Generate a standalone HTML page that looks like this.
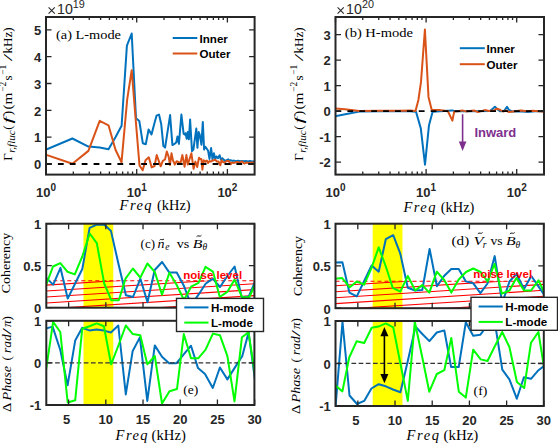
<!DOCTYPE html>
<html><head><meta charset="utf-8"><style>
html,body{margin:0;padding:0;background:#fff;}
svg{display:block;}
</style></head><body>
<svg width="558" height="444" viewBox="0 0 558 444">
<rect width="558" height="444" fill="#fff"/>
<clipPath id="cpa"><rect x="46.0" y="17.0" width="208.60" height="157.60"/></clipPath>
<clipPath id="cpb"><rect x="335.5" y="17.0" width="208.50" height="157.60"/></clipPath>
<clipPath id="cpc"><rect x="46.3" y="223.7" width="208.10" height="84.00"/></clipPath>
<clipPath id="cpe"><rect x="46.3" y="320.8" width="208.10" height="84.20"/></clipPath>
<clipPath id="cpd"><rect x="335.5" y="223.7" width="208.30" height="84.50"/></clipPath>
<clipPath id="cpf"><rect x="335.5" y="321.0" width="208.30" height="85.00"/></clipPath>
<polyline clip-path="url(#cpa)" points="45.1,150.0 72.4,138.5 88.4,146.6 99.7,147.6 108.5,149.3 115.6,137.0 121.6,125.8 126.9,45.6 131.7,33.5 136.0,118.3 139.3,121.0 142.8,143.2 145.8,144.2 148.6,129.5 151.5,134.5 154.1,124.5 156.5,115.7 159.0,114.6 161.2,124.0 163.4,146.1 165.1,147.6 170.1,115.1 172.4,145.0 174.6,143.9 176.3,142.2 177.5,136.5 178.9,143.9 181.4,114.6 183.6,133.7 185.0,134.8 185.6,133.2 186.7,138.8 187.8,132.0 188.9,139.3 190.1,119.6 192.0,151.2 193.4,149.5 196.3,128.6 197.4,147.8 198.7,132.0 199.6,134.3 200.7,140.0 201.4,144.7 202.8,121.9 204.1,149.5 205.4,146.8 206.8,148.8 208.1,150.8 209.5,158.9 211.1,148.1 212.5,159.3 213.9,153.2 215.2,158.9 216.5,156.5 217.9,158.2 219.6,155.2 220.9,159.6 222.3,158.2 223.6,159.6 225.0,160.9 226.7,160.3 228.2,159.3 229.5,160.8 230.5,160.2 232.5,160.9 234.0,160.6 236.0,161.2 238.0,160.8 240.0,161.3 242.0,160.9 244.0,161.3 246.0,160.9 248.0,161.4 250.0,161.0 252.0,161.4 254.8,161.2" fill="none" stroke="#0072BD" stroke-width="2.0" stroke-linejoin="round"/>
<polyline clip-path="url(#cpa)" points="45.1,154.5 72.4,163.7 88.4,150.9 99.7,120.9 108.5,125.3 115.5,149.7 121.5,162.3 127.2,99.4 131.7,70.2 135.8,121.0 139.5,165.5 142.7,170.3 145.5,160.2 148.8,157.3 151.7,167.4 154.5,166.0 156.7,155.1 160.7,166.3 162.8,160.9 165.0,159.5 166.8,151.5 168.6,156.6 170.0,164.9 171.5,153.3 172.9,160.2 174.8,164.5 176.6,161.3 178.5,162.0 180.3,163.8 182.4,155.1 184.6,166.7 186.4,155.1 187.8,164.5 191.4,153.3 193.6,168.8 195.4,161.6 197.2,167.0 199.0,157.7 200.0,158.9 201.4,159.0 202.4,169.7 203.7,160.3 205.4,161.6 206.8,160.5 208.1,163.0 209.5,161.0 210.8,161.6 212.2,160.8 213.5,160.3 215.2,159.6 216.9,161.6 218.5,161.4 220.3,165.3 221.6,160.3 223.3,162.3 225.0,162.2 226.7,161.0 228.7,160.9 230.8,164.1 232.0,162.5 234.0,162.9 236.8,162.0 239.5,162.6 242.1,161.4 244.3,163.6 246.5,162.5 248.6,163.0 251.3,162.5 254.8,162.8" fill="none" stroke="#D95319" stroke-width="2.0" stroke-linejoin="round"/>
<line x1="46.0" y1="164" x2="254.6" y2="164" stroke="#000" stroke-width="1.8" stroke-dasharray="5.8 6.1" clip-path="url(#cpa)"/>
<rect x="46.0" y="17.0" width="208.60" height="157.60" fill="none" stroke="#262626" stroke-width="2.0"/>
<path d="M46.00,174.6v-5.5M46.00,17.0v5.5M136.70,174.6v-5.5M136.70,17.0v5.5M227.40,174.6v-5.5M227.40,17.0v5.5" stroke="#262626" stroke-width="1.3" fill="none"/>
<path d="M73.30,174.6v-3.0M73.30,17.0v3.0M89.27,174.6v-3.0M89.27,17.0v3.0M100.61,174.6v-3.0M100.61,17.0v3.0M109.40,174.6v-3.0M109.40,17.0v3.0M116.58,174.6v-3.0M116.58,17.0v3.0M122.65,174.6v-3.0M122.65,17.0v3.0M127.91,174.6v-3.0M127.91,17.0v3.0M132.55,174.6v-3.0M132.55,17.0v3.0M164.00,174.6v-3.0M164.00,17.0v3.0M179.97,174.6v-3.0M179.97,17.0v3.0M191.31,174.6v-3.0M191.31,17.0v3.0M200.10,174.6v-3.0M200.10,17.0v3.0M207.28,174.6v-3.0M207.28,17.0v3.0M213.35,174.6v-3.0M213.35,17.0v3.0M218.61,174.6v-3.0M218.61,17.0v3.0M223.25,174.6v-3.0M223.25,17.0v3.0" stroke="#262626" stroke-width="1.3" fill="none"/>
<path d="M46.0,164.00h5.5M254.6,164.00h-5.5M46.0,137.17h5.5M254.6,137.17h-5.5M46.0,110.34h5.5M254.6,110.34h-5.5M46.0,83.51h5.5M254.6,83.51h-5.5M46.0,56.68h5.5M254.6,56.68h-5.5M46.0,29.85h5.5M254.6,29.85h-5.5" stroke="#262626" stroke-width="1.3" fill="none"/>
<polyline clip-path="url(#cpb)" points="335.0,116.2 359.4,111.5 380.0,111.3 400.0,111.2 410.0,111.2 416.0,111.8 420.8,128.4 425.0,164.7 429.0,125.2 432.6,111.8 440.0,111.3 447.9,110.7 452.4,110.4 455.0,111.2 470.0,111.2 490.0,111.1 493.0,108.5 494.9,106.7 497.0,109.0 500.0,111.2 504.0,111.0 507.0,106.9 509.0,110.0 512.0,111.5 520.0,111.2 527.8,112.1 535.0,111.2 544.5,111.2" fill="none" stroke="#0072BD" stroke-width="2.0" stroke-linejoin="round"/>
<polyline clip-path="url(#cpb)" points="335.0,108.4 345.0,109.2 359.4,111.0 380.0,110.8 400.0,110.8 410.0,110.6 415.5,111.0 418.4,100.0 421.0,81.9 424.9,29.5 428.5,96.9 431.7,109.7 439.2,109.9 447.9,111.2 452.4,120.6 454.2,111.6 458.0,111.2 462.3,110.4 466.0,111.4 474.0,110.5 478.0,112.1 484.8,110.1 489.0,111.0 494.0,110.5 496.9,108.7 500.0,109.8 503.0,111.5 506.0,110.5 509.0,112.0 515.0,111.3 521.0,110.6 527.0,111.2 533.0,110.8 544.5,111.8" fill="none" stroke="#D95319" stroke-width="2.0" stroke-linejoin="round"/>
<line x1="335.5" y1="111.1" x2="544.0" y2="111.1" stroke="#000" stroke-width="1.8" stroke-dasharray="5.8 6.1" clip-path="url(#cpb)"/>
<rect x="335.5" y="17.0" width="208.50" height="157.60" fill="none" stroke="#262626" stroke-width="2.0"/>
<path d="M335.50,174.6v-5.5M335.50,17.0v5.5M426.10,174.6v-5.5M426.10,17.0v5.5M516.70,174.6v-5.5M516.70,17.0v5.5" stroke="#262626" stroke-width="1.3" fill="none"/>
<path d="M362.77,174.6v-3.0M362.77,17.0v3.0M378.73,174.6v-3.0M378.73,17.0v3.0M390.05,174.6v-3.0M390.05,17.0v3.0M398.83,174.6v-3.0M398.83,17.0v3.0M406.00,174.6v-3.0M406.00,17.0v3.0M412.07,174.6v-3.0M412.07,17.0v3.0M417.32,174.6v-3.0M417.32,17.0v3.0M421.95,174.6v-3.0M421.95,17.0v3.0M453.37,174.6v-3.0M453.37,17.0v3.0M469.33,174.6v-3.0M469.33,17.0v3.0M480.65,174.6v-3.0M480.65,17.0v3.0M489.43,174.6v-3.0M489.43,17.0v3.0M496.60,174.6v-3.0M496.60,17.0v3.0M502.67,174.6v-3.0M502.67,17.0v3.0M507.92,174.6v-3.0M507.92,17.0v3.0M512.55,174.6v-3.0M512.55,17.0v3.0" stroke="#262626" stroke-width="1.3" fill="none"/>
<path d="M335.5,162.10h5.5M544.0,162.10h-5.5M335.5,136.60h5.5M544.0,136.60h-5.5M335.5,111.10h5.5M544.0,111.10h-5.5M335.5,85.60h5.5M544.0,85.60h-5.5M335.5,60.10h5.5M544.0,60.10h-5.5M335.5,34.60h5.5M544.0,34.60h-5.5" stroke="#262626" stroke-width="1.3" fill="none"/>
<rect x="83.50" y="223.7" width="29.76" height="84.00" fill="#FFFF00"/>
<clipPath id="hc"><rect x="46.3" y="280.8" width="208.10" height="26.90"/></clipPath>
<path d="M46.3,273.20L254.4,259.88M46.3,279.15L254.4,265.83M46.3,285.10L254.4,271.78M46.3,291.05L254.4,277.73M46.3,297.00L254.4,283.68M46.3,302.95L254.4,289.63M46.3,308.90L254.4,295.58M46.3,314.85L254.4,301.53M46.3,320.80L254.4,307.48M46.3,326.75L254.4,313.43" stroke="#FF0000" stroke-width="1.1" fill="none" clip-path="url(#hc)"/>
<line x1="46.3" y1="280.8" x2="254.4" y2="280.8" stroke="#FF0000" stroke-width="1.1" stroke-dasharray="4 3"/>
<polyline clip-path="url(#cpc)" points="45.9,277.6 53.2,284.6 60.5,267.9 67.7,298.6 75.0,283.7 82.3,269.0 89.6,227.9 96.8,224.7 104.1,224.6 111.0,231.1 118.6,264.5 125.9,295.3 133.0,297.0 140.4,278.7 147.5,302.3 154.7,270.0 162.1,262.0 169.2,272.4 176.7,272.6 184.0,286.1 191.2,305.0 198.5,294.7 205.6,283.8 212.7,278.6 220.0,287.0 227.4,276.0 234.6,266.5 241.7,297.2 248.8,296.5 256.6,278.0" fill="none" stroke="#0072BD" stroke-width="2.0" stroke-linejoin="round"/>
<polyline clip-path="url(#cpc)" points="45.9,285.7 53.0,266.5 60.3,263.1 67.4,271.7 74.8,274.4 82.3,256.5 89.7,233.5 96.8,243.1 104.2,283.5 111.3,300.2 118.8,300.2 125.5,278.7 132.9,268.5 140.3,277.6 147.4,263.5 154.9,272.2 162.0,294.8 169.4,272.8 176.7,285.0 184.0,300.0 191.1,286.7 198.5,282.9 205.5,266.9 212.9,271.6 219.8,297.0 227.6,291.6 234.6,279.6 242.2,297.5 249.4,297.0 256.6,281.0" fill="none" stroke="#00FF00" stroke-width="2.0" stroke-linejoin="round"/>
<rect x="46.3" y="223.7" width="208.10" height="84.00" fill="none" stroke="#262626" stroke-width="2.0"/>
<path d="M68.62,307.7v-5.5M68.62,223.7v5.5M105.82,307.7v-5.5M105.82,223.7v5.5M143.02,307.7v-5.5M143.02,223.7v5.5M180.22,307.7v-5.5M180.22,223.7v5.5M217.42,307.7v-5.5M217.42,223.7v5.5M254.62,307.7v-5.5M254.62,223.7v5.5" stroke="#262626" stroke-width="1.3" fill="none"/>
<path d="M46.3,307.70h5.5M254.4,307.70h-5.5M46.3,265.70h5.5M254.4,265.70h-5.5M46.3,223.70h5.5M254.4,223.70h-5.5" stroke="#262626" stroke-width="1.3" fill="none"/>
<rect x="83.50" y="320.8" width="29.76" height="84.20" fill="#FFFF00"/>
<polyline clip-path="url(#cpe)" points="45.9,328.5 52.6,326.6 60.3,350.0 67.6,385.3 75.2,340.6 82.2,327.7 89.4,330.4 96.7,329.6 103.9,330.6 110.9,332.5 118.3,325.5 125.8,394.4 132.6,351.3 139.9,337.4 147.3,400.9 154.8,345.4 162.0,356.7 169.1,363.2 176.5,363.2 183.5,354.6 191.0,345.7 198.0,368.1 205.0,374.0 212.8,388.0 219.9,367.5 227.4,379.4 234.8,367.6 242.2,356.2 248.6,332.6 256.6,392.0" fill="none" stroke="#0072BD" stroke-width="2.0" stroke-linejoin="round"/>
<line x1="46.3" y1="362.9" x2="254.4" y2="362.9" stroke="#333" stroke-width="1.3" stroke-dasharray="4.7 2.47" stroke-dashoffset="-1.62" clip-path="url(#cpe)"/>
<polyline clip-path="url(#cpe)" points="45.9,371.0 53.1,321.8 60.3,332.0 67.7,402.5 75.2,400.3 82.2,328.8 89.4,326.3 96.7,323.4 103.9,326.3 111.1,364.3 118.6,345.0 125.8,325.5 132.8,334.1 140.3,335.2 147.3,364.3 154.8,356.0 162.0,403.5 169.5,391.2 177.0,389.0 183.8,334.1 191.0,358.3 198.2,358.3 205.6,349.7 212.9,333.6 219.9,335.2 227.4,356.2 234.5,401.4 241.9,337.3 248.5,332.4 256.6,385.0" fill="none" stroke="#00FF00" stroke-width="2.0" stroke-linejoin="round"/>
<rect x="46.3" y="320.8" width="208.10" height="84.20" fill="none" stroke="#262626" stroke-width="2.0"/>
<path d="M68.62,405.0v-5.5M68.62,320.8v5.5M105.82,405.0v-5.5M105.82,320.8v5.5M143.02,405.0v-5.5M143.02,320.8v5.5M180.22,405.0v-5.5M180.22,320.8v5.5M217.42,405.0v-5.5M217.42,320.8v5.5M254.62,405.0v-5.5M254.62,320.8v5.5" stroke="#262626" stroke-width="1.3" fill="none"/>
<path d="M46.3,405.00h5.5M254.4,405.00h-5.5M46.3,362.90h5.5M254.4,362.90h-5.5M46.3,320.80h5.5M254.4,320.80h-5.5" stroke="#262626" stroke-width="1.3" fill="none"/>
<rect x="372.70" y="223.7" width="29.76" height="84.50" fill="#FFFF00"/>
<clipPath id="hd"><rect x="335.5" y="281.2" width="208.30" height="27.00"/></clipPath>
<path d="M335.5,273.90L543.8,260.57M335.5,279.85L543.8,266.52M335.5,285.80L543.8,272.47M335.5,291.75L543.8,278.42M335.5,297.70L543.8,284.37M335.5,303.65L543.8,290.32M335.5,309.60L543.8,296.27M335.5,315.55L543.8,302.22M335.5,321.50L543.8,308.17M335.5,327.45L543.8,314.12" stroke="#FF0000" stroke-width="1.1" fill="none" clip-path="url(#hd)"/>
<line x1="335.5" y1="281.2" x2="543.8" y2="281.2" stroke="#FF0000" stroke-width="1.1" stroke-dasharray="4 3"/>
<polyline clip-path="url(#cpd)" points="335.1,262.4 342.4,262.3 349.4,292.6 356.8,296.4 364.2,281.0 371.6,265.5 378.7,271.7 385.8,239.2 393.2,235.2 400.3,253.7 407.8,287.8 415.1,290.5 422.3,290.0 429.6,248.9 436.9,286.2 444.1,276.0 451.3,269.0 458.7,269.0 465.9,281.4 473.1,283.2 480.4,293.2 487.5,283.5 494.7,256.1 502.2,303.0 509.6,281.2 516.5,274.0 524.0,289.0 531.3,276.0 538.6,286.6 545.8,297.0" fill="none" stroke="#0072BD" stroke-width="2.0" stroke-linejoin="round"/>
<polyline clip-path="url(#cpd)" points="335.1,278.7 342.2,278.1 349.7,287.3 356.8,281.4 364.2,284.6 371.5,268.0 378.7,247.3 386.0,267.0 392.7,287.8 400.3,291.6 407.8,276.0 415.3,290.5 422.3,285.1 429.3,292.6 436.8,271.7 444.2,280.0 451.3,292.6 458.7,279.5 466.0,272.0 473.2,268.5 480.6,272.0 487.6,281.5 494.5,264.0 501.9,293.7 509.4,290.5 516.4,278.1 524.0,290.5 531.0,290.5 538.5,280.3 545.8,296.0" fill="none" stroke="#00FF00" stroke-width="2.0" stroke-linejoin="round"/>
<rect x="335.5" y="223.7" width="208.30" height="84.50" fill="none" stroke="#262626" stroke-width="2.0"/>
<path d="M357.82,308.2v-5.5M357.82,223.7v5.5M395.02,308.2v-5.5M395.02,223.7v5.5M432.22,308.2v-5.5M432.22,223.7v5.5M469.42,308.2v-5.5M469.42,223.7v5.5M506.62,308.2v-5.5M506.62,223.7v5.5M543.82,308.2v-5.5M543.82,223.7v5.5" stroke="#262626" stroke-width="1.3" fill="none"/>
<path d="M335.5,308.20h5.5M543.8,308.20h-5.5M335.5,265.95h5.5M543.8,265.95h-5.5M335.5,223.70h5.5M543.8,223.70h-5.5" stroke="#262626" stroke-width="1.3" fill="none"/>
<rect x="372.70" y="321.0" width="29.76" height="85.00" fill="#FFFF00"/>
<polyline clip-path="url(#cpf)" points="335.1,412.0 342.5,321.8 349.5,395.5 357.0,404.0 364.2,400.9 371.4,388.5 378.7,384.2 385.8,386.3 393.0,389.5 400.4,392.3 407.8,361.0 415.5,326.6 422.3,334.0 429.4,341.1 436.8,332.5 444.3,330.4 451.1,367.0 458.7,367.0 465.8,322.3 473.2,335.7 480.4,334.7 487.6,325.0 494.8,322.0 502.3,369.7 509.4,379.4 516.8,398.7 523.9,377.2 531.0,378.8 538.5,370.2 545.8,364.5" fill="none" stroke="#0072BD" stroke-width="2.0" stroke-linejoin="round"/>
<line x1="335.5" y1="363.4" x2="543.8" y2="363.4" stroke="#333" stroke-width="1.3" stroke-dasharray="4.7 2.47" stroke-dashoffset="-1.62" clip-path="url(#cpf)"/>
<polyline clip-path="url(#cpf)" points="335.1,385.0 342.4,391.4 349.2,357.5 356.6,341.3 364.2,343.0 371.7,327.7 378.4,326.6 385.8,323.4 393.2,327.3 400.5,364.0 407.8,400.9 414.8,321.8 422.2,357.0 429.3,391.7 436.8,374.0 444.3,370.2 451.3,337.9 458.8,391.7 465.8,397.6 473.2,349.7 480.7,359.4 487.5,361.0 494.7,346.5 502.2,332.0 509.4,347.0 516.9,382.0 524.2,388.0 531.0,342.7 538.4,332.0 545.8,378.5" fill="none" stroke="#00FF00" stroke-width="2.0" stroke-linejoin="round"/>
<rect x="335.5" y="321.0" width="208.30" height="85.00" fill="none" stroke="#262626" stroke-width="2.0"/>
<path d="M357.82,406.0v-5.5M357.82,321.0v5.5M395.02,406.0v-5.5M395.02,321.0v5.5M432.22,406.0v-5.5M432.22,321.0v5.5M469.42,406.0v-5.5M469.42,321.0v5.5M506.62,406.0v-5.5M506.62,321.0v5.5M543.82,406.0v-5.5M543.82,321.0v5.5" stroke="#262626" stroke-width="1.3" fill="none"/>
<path d="M335.5,406.00h5.5M543.8,406.00h-5.5M335.5,363.50h5.5M543.8,363.50h-5.5M335.5,321.00h5.5M543.8,321.00h-5.5" stroke="#262626" stroke-width="1.3" fill="none"/>
<text x="41.3" y="169.3" font-family='"Liberation Sans", sans-serif' font-size="13.0" font-weight="bold" font-style="normal" fill="#262626" text-anchor="end" >0</text>
<text x="41.3" y="142.47000000000003" font-family='"Liberation Sans", sans-serif' font-size="13.0" font-weight="bold" font-style="normal" fill="#262626" text-anchor="end" >1</text>
<text x="41.3" y="115.64" font-family='"Liberation Sans", sans-serif' font-size="13.0" font-weight="bold" font-style="normal" fill="#262626" text-anchor="end" >2</text>
<text x="41.3" y="88.81" font-family='"Liberation Sans", sans-serif' font-size="13.0" font-weight="bold" font-style="normal" fill="#262626" text-anchor="end" >3</text>
<text x="41.3" y="61.980000000000004" font-family='"Liberation Sans", sans-serif' font-size="13.0" font-weight="bold" font-style="normal" fill="#262626" text-anchor="end" >4</text>
<text x="41.3" y="35.15000000000002" font-family='"Liberation Sans", sans-serif' font-size="13.0" font-weight="bold" font-style="normal" fill="#262626" text-anchor="end" >5</text>
<text x="330.8" y="167.4" font-family='"Liberation Sans", sans-serif' font-size="13.0" font-weight="bold" font-style="normal" fill="#262626" text-anchor="end" >-2</text>
<text x="330.8" y="141.9" font-family='"Liberation Sans", sans-serif' font-size="13.0" font-weight="bold" font-style="normal" fill="#262626" text-anchor="end" >-1</text>
<text x="330.8" y="116.39999999999999" font-family='"Liberation Sans", sans-serif' font-size="13.0" font-weight="bold" font-style="normal" fill="#262626" text-anchor="end" >0</text>
<text x="330.8" y="90.89999999999999" font-family='"Liberation Sans", sans-serif' font-size="13.0" font-weight="bold" font-style="normal" fill="#262626" text-anchor="end" >1</text>
<text x="330.8" y="65.39999999999999" font-family='"Liberation Sans", sans-serif' font-size="13.0" font-weight="bold" font-style="normal" fill="#262626" text-anchor="end" >2</text>
<text x="330.8" y="39.89999999999999" font-family='"Liberation Sans", sans-serif' font-size="13.0" font-weight="bold" font-style="normal" fill="#262626" text-anchor="end" >3</text>
<text x="41.3" y="313.0" font-family='"Liberation Sans", sans-serif' font-size="13.0" font-weight="bold" font-style="normal" fill="#262626" text-anchor="end" >0</text>
<text x="41.3" y="271.0" font-family='"Liberation Sans", sans-serif' font-size="13.0" font-weight="bold" font-style="normal" fill="#262626" text-anchor="end" >0.5</text>
<text x="41.3" y="229.0" font-family='"Liberation Sans", sans-serif' font-size="13.0" font-weight="bold" font-style="normal" fill="#262626" text-anchor="end" >1</text>
<text x="330.8" y="313.5" font-family='"Liberation Sans", sans-serif' font-size="13.0" font-weight="bold" font-style="normal" fill="#262626" text-anchor="end" >0</text>
<text x="330.8" y="271.25" font-family='"Liberation Sans", sans-serif' font-size="13.0" font-weight="bold" font-style="normal" fill="#262626" text-anchor="end" >0.5</text>
<text x="330.8" y="229.0" font-family='"Liberation Sans", sans-serif' font-size="13.0" font-weight="bold" font-style="normal" fill="#262626" text-anchor="end" >1</text>
<text x="41.3" y="410.3" font-family='"Liberation Sans", sans-serif' font-size="13.0" font-weight="bold" font-style="normal" fill="#262626" text-anchor="end" >-1</text>
<text x="41.3" y="368.2" font-family='"Liberation Sans", sans-serif' font-size="13.0" font-weight="bold" font-style="normal" fill="#262626" text-anchor="end" >0</text>
<text x="41.3" y="326.1" font-family='"Liberation Sans", sans-serif' font-size="13.0" font-weight="bold" font-style="normal" fill="#262626" text-anchor="end" >1</text>
<text x="330.8" y="411.3" font-family='"Liberation Sans", sans-serif' font-size="13.0" font-weight="bold" font-style="normal" fill="#262626" text-anchor="end" >-1</text>
<text x="330.8" y="368.8" font-family='"Liberation Sans", sans-serif' font-size="13.0" font-weight="bold" font-style="normal" fill="#262626" text-anchor="end" >0</text>
<text x="330.8" y="326.3" font-family='"Liberation Sans", sans-serif' font-size="13.0" font-weight="bold" font-style="normal" fill="#262626" text-anchor="end" >1</text>
<text x="66.72" y="423.6" font-family='"Liberation Sans", sans-serif' font-size="13.0" font-weight="bold" font-style="normal" fill="#262626" text-anchor="middle" >5</text>
<text x="105.82" y="423.6" font-family='"Liberation Sans", sans-serif' font-size="13.0" font-weight="bold" font-style="normal" fill="#262626" text-anchor="middle" >10</text>
<text x="143.01999999999998" y="423.6" font-family='"Liberation Sans", sans-serif' font-size="13.0" font-weight="bold" font-style="normal" fill="#262626" text-anchor="middle" >15</text>
<text x="180.22000000000003" y="423.6" font-family='"Liberation Sans", sans-serif' font-size="13.0" font-weight="bold" font-style="normal" fill="#262626" text-anchor="middle" >20</text>
<text x="217.42000000000002" y="423.6" font-family='"Liberation Sans", sans-serif' font-size="13.0" font-weight="bold" font-style="normal" fill="#262626" text-anchor="middle" >25</text>
<text x="254.62" y="423.6" font-family='"Liberation Sans", sans-serif' font-size="13.0" font-weight="bold" font-style="normal" fill="#262626" text-anchor="middle" >30</text>
<text x="355.92" y="424.6" font-family='"Liberation Sans", sans-serif' font-size="13.0" font-weight="bold" font-style="normal" fill="#262626" text-anchor="middle" >5</text>
<text x="395.02" y="424.6" font-family='"Liberation Sans", sans-serif' font-size="13.0" font-weight="bold" font-style="normal" fill="#262626" text-anchor="middle" >10</text>
<text x="432.22" y="424.6" font-family='"Liberation Sans", sans-serif' font-size="13.0" font-weight="bold" font-style="normal" fill="#262626" text-anchor="middle" >15</text>
<text x="469.42" y="424.6" font-family='"Liberation Sans", sans-serif' font-size="13.0" font-weight="bold" font-style="normal" fill="#262626" text-anchor="middle" >20</text>
<text x="506.62" y="424.6" font-family='"Liberation Sans", sans-serif' font-size="13.0" font-weight="bold" font-style="normal" fill="#262626" text-anchor="middle" >25</text>
<text x="543.82" y="424.6" font-family='"Liberation Sans", sans-serif' font-size="13.0" font-weight="bold" font-style="normal" fill="#262626" text-anchor="middle" >30</text>
<text x="46.00" y="197.1" font-family='"Liberation Sans", sans-serif' font-size="13.0" font-weight="bold" fill="#262626" text-anchor="middle">10<tspan font-size="10" dy="-6.4">0</tspan></text>
<text x="136.70" y="197.1" font-family='"Liberation Sans", sans-serif' font-size="13.0" font-weight="bold" fill="#262626" text-anchor="middle">10<tspan font-size="10" dy="-6.4">1</tspan></text>
<text x="227.40" y="197.1" font-family='"Liberation Sans", sans-serif' font-size="13.0" font-weight="bold" fill="#262626" text-anchor="middle">10<tspan font-size="10" dy="-6.4">2</tspan></text>
<text x="335.50" y="197.1" font-family='"Liberation Sans", sans-serif' font-size="13.0" font-weight="bold" fill="#262626" text-anchor="middle">10<tspan font-size="10" dy="-6.4">0</tspan></text>
<text x="426.10" y="197.1" font-family='"Liberation Sans", sans-serif' font-size="13.0" font-weight="bold" fill="#262626" text-anchor="middle">10<tspan font-size="10" dy="-6.4">1</tspan></text>
<text x="516.70" y="197.1" font-family='"Liberation Sans", sans-serif' font-size="13.0" font-weight="bold" fill="#262626" text-anchor="middle">10<tspan font-size="10" dy="-6.4">2</tspan></text>
<path d="M48.6,7.4 L54.8,13.6 M54.8,7.4 L48.6,13.6" stroke="#262626" stroke-width="1.05"/>
<text x="57.0" y="14" font-family='"Liberation Sans", sans-serif' font-size="14.2" fill="#262626">10<tspan font-size="10.8" dy="-6.3">19</tspan></text>
<path d="M337.6,7.4 L343.8,13.6 M343.8,7.4 L337.6,13.6" stroke="#262626" stroke-width="1.05"/>
<text x="346.1" y="14" font-family='"Liberation Sans", sans-serif' font-size="14.2" fill="#262626">10<tspan font-size="10.8" dy="-6.3">20</tspan></text>
<text x="56.0" y="38.6" font-family='"Liberation Serif", serif' font-size="13.5" font-style="normal" fill="#000" textLength="65.0" lengthAdjust="spacingAndGlyphs">(a) L-mode</text>
<text x="344.8" y="37.3" font-family='"Liberation Serif", serif' font-size="13.5" font-style="normal" fill="#000" textLength="68.2" lengthAdjust="spacingAndGlyphs">(b) H-mode</text>
<text x="140.6" y="247.5" font-family='"Liberation Serif", serif' font-size="13.5" font-style="normal" fill="#000" textLength="14.4" lengthAdjust="spacingAndGlyphs">(c)</text>
<text x="157.6" y="247.5" font-family='"Liberation Serif", serif' font-size="13.5" font-style="italic" fill="#000" textLength="7.0" lengthAdjust="spacingAndGlyphs">n</text>
<path d="M159.60,240.30 C160.70,238.20 162.90,241.00 164.00,238.90" fill="none" stroke="#000" stroke-width="0.9"/>
<text x="165.2" y="249.9" font-family='"Liberation Serif", serif' font-size="9.5" font-style="italic" fill="#000">e</text>
<text x="176.7" y="247.5" font-family='"Liberation Serif", serif' font-size="13.5" font-style="normal" fill="#000" textLength="12.6" lengthAdjust="spacingAndGlyphs">vs</text>
<text x="192.8" y="247.5" font-family='"Liberation Serif", serif' font-size="13.5" font-style="italic" fill="#000" textLength="9.6" lengthAdjust="spacingAndGlyphs">B</text>
<path d="M196.60,236.70 C197.80,234.60 200.20,237.40 201.40,235.30" fill="none" stroke="#000" stroke-width="0.9"/>
<text x="202.4" y="249.9" font-family='"Liberation Serif", serif' font-size="9.5" font-style="italic" fill="#000">θ</text>
<text x="451.6" y="245.3" font-family='"Liberation Serif", serif' font-size="13.5" font-style="normal" fill="#000" textLength="17.6" lengthAdjust="spacingAndGlyphs">(d)</text>
<text x="473.4" y="245.3" font-family='"Liberation Serif", serif' font-size="13.5" font-style="italic" fill="#000" textLength="10.0" lengthAdjust="spacingAndGlyphs">V</text>
<path d="M477.80,233.90 C479.00,231.80 481.40,234.60 482.60,232.50" fill="none" stroke="#000" stroke-width="0.9"/>
<text x="482.8" y="247.70000000000002" font-family='"Liberation Serif", serif' font-size="9.5" font-style="italic" fill="#000">r</text>
<text x="490.4" y="245.3" font-family='"Liberation Serif", serif' font-size="13.5" font-style="normal" fill="#000" textLength="12.2" lengthAdjust="spacingAndGlyphs">vs</text>
<text x="506.1" y="245.3" font-family='"Liberation Serif", serif' font-size="13.5" font-style="italic" fill="#000" textLength="9.6" lengthAdjust="spacingAndGlyphs">B</text>
<path d="M509.90,233.90 C511.10,231.80 513.50,234.60 514.70,232.50" fill="none" stroke="#000" stroke-width="0.9"/>
<text x="515.6" y="247.70000000000002" font-family='"Liberation Serif", serif' font-size="9.5" font-style="italic" fill="#000">θ</text>
<text x="183.2" y="393.9" font-family='"Liberation Serif", serif' font-size="13.5" font-style="normal" fill="#000" textLength="15.0" lengthAdjust="spacingAndGlyphs">(e)</text>
<text x="473.6" y="395.4" font-family='"Liberation Serif", serif' font-size="13.5" font-style="normal" fill="#000" textLength="13.8" lengthAdjust="spacingAndGlyphs">(f)</text>
<text x="119.6" y="210.2" font-family='"Liberation Serif", serif' font-size="14.5" font-style="italic" fill="#000" textLength="32.0" lengthAdjust="spacing">Freq</text>
<text x="157.0" y="210.2" font-family='"Liberation Serif", serif' font-size="14.0" fill="#000" textLength="33.6" lengthAdjust="spacingAndGlyphs">(kHz)</text>
<text x="403.5" y="212.4" font-family='"Liberation Serif", serif' font-size="14.5" font-style="italic" fill="#000" textLength="32.0" lengthAdjust="spacing">Freq</text>
<text x="440.8" y="212.4" font-family='"Liberation Serif", serif' font-size="14.0" fill="#000" textLength="33.6" lengthAdjust="spacingAndGlyphs">(kHz)</text>
<text x="115.6" y="439.6" font-family='"Liberation Serif", serif' font-size="14.5" font-style="italic" fill="#000" textLength="32.0" lengthAdjust="spacing">Freq</text>
<text x="151.6" y="439.6" font-family='"Liberation Serif", serif' font-size="14.0" fill="#000" textLength="34.2" lengthAdjust="spacingAndGlyphs">(kHz)</text>
<text x="406.6" y="439.8" font-family='"Liberation Serif", serif' font-size="14.5" font-style="italic" fill="#000" textLength="32.5" lengthAdjust="spacing">Freq</text>
<text x="443.5" y="439.8" font-family='"Liberation Serif", serif' font-size="14.0" fill="#000" textLength="34.8" lengthAdjust="spacingAndGlyphs">(kHz)</text>
<g transform="translate(12.4,160.8) rotate(-90)" font-family='"Liberation Serif", serif' fill="#000"><text x="0.0" y="0" font-size="13.0" font-style="normal">Γ</text><text x="8.0" y="3.0" font-size="9.5" font-style="italic" textLength="22.5" lengthAdjust="spacingAndGlyphs">r,fluc</text><text x="31.0" y="0" font-size="13.0" font-style="normal">(</text><text x="37.4" y="0" font-size="13.0" font-style="italic" textLength="6.6" lengthAdjust="spacingAndGlyphs">f</text><text x="45.6" y="0" font-size="13.0" font-style="normal">)</text><text x="51.2" y="0" font-size="13.0" font-style="normal" textLength="17.0" lengthAdjust="spacingAndGlyphs">(m</text><text x="69.0" y="-6.0" font-size="9.5" font-style="normal" textLength="10.0" lengthAdjust="spacingAndGlyphs">−2</text><text x="80.2" y="0" font-size="13.0" font-style="normal">s</text><text x="86.0" y="-6.0" font-size="9.5" font-style="normal" textLength="10.0" lengthAdjust="spacingAndGlyphs">−1</text><text x="99.5" y="0" font-size="13.0" font-style="normal" textLength="7.5" lengthAdjust="spacingAndGlyphs">/</text><text x="107.4" y="0" font-size="13.0" font-style="normal" textLength="26.0" lengthAdjust="spacingAndGlyphs">kHz)</text></g>
<g transform="translate(302.6,160.8) rotate(-90)" font-family='"Liberation Serif", serif' fill="#000"><text x="0.0" y="0" font-size="13.0" font-style="normal">Γ</text><text x="8.0" y="3.0" font-size="9.5" font-style="italic" textLength="22.5" lengthAdjust="spacingAndGlyphs">r,fluc</text><text x="31.0" y="0" font-size="13.0" font-style="normal">(</text><text x="37.4" y="0" font-size="13.0" font-style="italic" textLength="6.6" lengthAdjust="spacingAndGlyphs">f</text><text x="45.6" y="0" font-size="13.0" font-style="normal">)</text><text x="51.2" y="0" font-size="13.0" font-style="normal" textLength="17.0" lengthAdjust="spacingAndGlyphs">(m</text><text x="69.0" y="-6.0" font-size="9.5" font-style="normal" textLength="10.0" lengthAdjust="spacingAndGlyphs">−2</text><text x="80.2" y="0" font-size="13.0" font-style="normal">s</text><text x="86.0" y="-6.0" font-size="9.5" font-style="normal" textLength="10.0" lengthAdjust="spacingAndGlyphs">−1</text><text x="99.5" y="0" font-size="13.0" font-style="normal" textLength="7.5" lengthAdjust="spacingAndGlyphs">/</text><text x="107.4" y="0" font-size="13.0" font-style="normal" textLength="26.0" lengthAdjust="spacingAndGlyphs">kHz)</text></g>
<g transform="translate(10.0,293.3) rotate(-90)" font-family='"Liberation Serif", serif' fill="#000"><text x="0" y="0" font-size="13.0" font-style="normal" textLength="60.5" lengthAdjust="spacingAndGlyphs">Coherency</text></g>
<g transform="translate(302.3,296.0) rotate(-90)" font-family='"Liberation Serif", serif' fill="#000"><text x="0" y="0" font-size="13.0" font-style="normal" textLength="60.0" lengthAdjust="spacingAndGlyphs">Coherency</text></g>
<g transform="translate(11.0,411.9) rotate(-90)" font-family='"Liberation Serif", serif' fill="#000"><text x="0.0" y="0" font-size="13.0" font-style="normal" textLength="9.2" lengthAdjust="spacingAndGlyphs">Δ</text><text x="11.5" y="0" font-size="13.0" font-style="italic" textLength="34.5" lengthAdjust="spacingAndGlyphs">Phase</text><text x="51.5" y="0" font-size="13.0" font-style="normal">(</text><text x="59.0" y="0" font-size="13.0" font-style="italic" textLength="18.5" lengthAdjust="spacingAndGlyphs">rad</text><text x="77.2" y="0" font-size="13.0" font-style="normal" textLength="6.8" lengthAdjust="spacingAndGlyphs">/</text><text x="84.8" y="0" font-size="13.0" font-style="italic">π</text><text x="91.4" y="0" font-size="13.0" font-style="normal">)</text></g>
<g transform="translate(300.4,413.9) rotate(-90)" font-family='"Liberation Serif", serif' fill="#000"><text x="0.0" y="0" font-size="13.0" font-style="normal" textLength="9.2" lengthAdjust="spacingAndGlyphs">Δ</text><text x="11.5" y="0" font-size="13.0" font-style="italic" textLength="34.5" lengthAdjust="spacingAndGlyphs">Phase</text><text x="51.5" y="0" font-size="13.0" font-style="normal">(</text><text x="59.0" y="0" font-size="13.0" font-style="italic" textLength="18.5" lengthAdjust="spacingAndGlyphs">rad</text><text x="77.2" y="0" font-size="13.0" font-style="normal" textLength="6.8" lengthAdjust="spacingAndGlyphs">/</text><text x="84.8" y="0" font-size="13.0" font-style="italic">π</text><text x="91.4" y="0" font-size="13.0" font-style="normal">)</text></g>
<line x1="172.7" y1="38.0" x2="197.3" y2="38.0" stroke="#0072BD" stroke-width="2"/>
<text x="199.5" y="42.6" font-family='"Liberation Sans", sans-serif' font-size="11.6" font-weight="bold" fill="#000">Inner</text>
<line x1="172.7" y1="53.5" x2="197.3" y2="53.5" stroke="#D95319" stroke-width="2"/>
<text x="199.5" y="57.6" font-family='"Liberation Sans", sans-serif' font-size="11.6" font-weight="bold" fill="#000">Outer</text>
<line x1="459.8" y1="48.2" x2="484.8" y2="48.2" stroke="#0072BD" stroke-width="2"/>
<text x="486.5" y="53.0" font-family='"Liberation Sans", sans-serif' font-size="11.6" font-weight="bold" fill="#000">Inner</text>
<line x1="459.8" y1="64.2" x2="484.8" y2="64.2" stroke="#D95319" stroke-width="2"/>
<text x="486.5" y="68.7" font-family='"Liberation Sans", sans-serif' font-size="11.6" font-weight="bold" fill="#000">Outer</text>
<rect x="176.5" y="298.4" width="87.00" height="33.10" fill="#fff" stroke="#262626" stroke-width="1.4"/>
<line x1="184.3" y1="307.4" x2="208.5" y2="307.4" stroke="#0072BD" stroke-width="2"/>
<text x="211.0" y="311.9" font-family='"Liberation Sans", sans-serif' font-size="11.6" font-weight="bold" fill="#000">H-mode</text>
<line x1="184.3" y1="322.6" x2="208.5" y2="322.6" stroke="#00FF00" stroke-width="2"/>
<text x="211.0" y="326.7" font-family='"Liberation Sans", sans-serif' font-size="11.6" font-weight="bold" fill="#000">L-mode</text>
<rect x="471.0" y="297.3" width="86.50" height="33.00" fill="#fff" stroke="#262626" stroke-width="1.4"/>
<line x1="478.6" y1="306.5" x2="502.8" y2="306.5" stroke="#0072BD" stroke-width="2"/>
<text x="505.3" y="311.1" font-family='"Liberation Sans", sans-serif' font-size="11.6" font-weight="bold" fill="#000">H-mode</text>
<line x1="478.6" y1="321.9" x2="502.8" y2="321.9" stroke="#00FF00" stroke-width="2"/>
<text x="505.3" y="325.8" font-family='"Liberation Sans", sans-serif' font-size="11.6" font-weight="bold" fill="#000">L-mode</text>
<text x="183.3" y="278.6" font-family='"Liberation Sans", sans-serif' font-size="11.5" font-weight="bold" fill="#FF0000">noise level</text>
<text x="473.3" y="277.5" font-family='"Liberation Sans", sans-serif' font-size="11.5" font-weight="bold" fill="#FF0000">noise level</text>
<line x1="462.6" y1="114.3" x2="462.6" y2="143" stroke="#7E2F8E" stroke-width="1.6"/>
<path d="M458.8,141.5 L466.4,141.5 L462.6,151 Z" fill="#7E2F8E"/>
<text x="474.4" y="137.2" font-family='"Liberation Sans", sans-serif' font-size="13" font-weight="bold" fill="#7E2F8E">Inward</text>
<line x1="384.4" y1="334" x2="384.4" y2="376" stroke="#000" stroke-width="1.6"/>
<path d="M380.4,336.3 L388.4,336.3 L384.4,327.1 Z" fill="#000"/>
<path d="M380.4,374 L388.4,374 L384.4,383.3 Z" fill="#000"/>
</svg>
</body></html>
